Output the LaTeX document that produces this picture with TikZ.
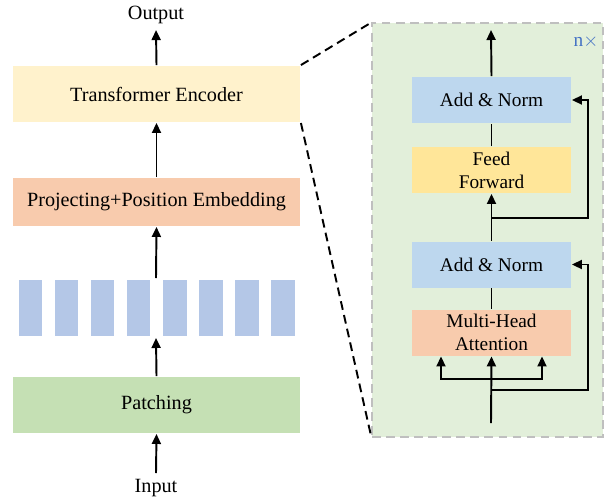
\documentclass[tikz,border=0pt]{standalone}
\usepackage{fontspec}
\setmainfont{Liberation Serif}
\usetikzlibrary{arrows.meta}

\definecolor{encyellow}{HTML}{FFF2CC}
\definecolor{projred}{HTML}{F8CBAD}
\definecolor{patchblue}{HTML}{B4C7E7}
\definecolor{patchgreen}{HTML}{C5E0B4}
\definecolor{panelgreen}{HTML}{E2EFDA}
\definecolor{normblue}{HTML}{BDD7EE}
\definecolor{ffyellow}{HTML}{FFE699}
\definecolor{repblue}{HTML}{4472C4}

\begin{document}
\begin{tikzpicture}[x=0.02cm, y=-0.02cm,
    line width=1.1pt,
    arrow/.style={-{Triangle[length=2mm, width=1.8mm]}},
    bigbox/.style={minimum width=5.74cm, minimum height=1.12cm, inner sep=0pt, font=\fontsize{11.5}{13}\selectfont},
    smallbox/.style={minimum width=3.18cm, minimum height=0.92cm, inner sep=0pt, align=center, font=\fontsize{11}{13}\selectfont},
    label/.style={inner sep=3pt, font=\fontsize{11.5}{13}\selectfont}]
			\useasboundingbox (0,0) rectangle (605,501);
			
			% Left column
			\node[label] (out) at (156,15) {Output};
			\node[bigbox, fill=encyellow] (te) at (156.5,94) {Transformer Encoder};
			\node[bigbox, fill=projred, minimum height=0.96cm] (proj) at (156.5,202) {Projecting+Position Embedding};
			\foreach \i in {1,...,8} {
				\node[fill=patchblue, minimum width=0.48cm, minimum height=1.12cm, inner sep=0pt] (patch\i) at ({30.5+36*(\i-1)},308) {};
			}
			\node[bigbox, fill=patchgreen] (patching) at (156.5,405) {Patching};
			\node[label] (in) at (156,488) {Input};
			
			% Left arrows
			\coordinate (gap) at (156,338);
			\coordinate (gaptop) at (156,278);
			\draw[arrow] (in.north) -- (patching.south);
			\draw[arrow] (patching.north) -- (gap);
			\draw[arrow] (gaptop) -- (proj.south);
			\draw[arrow] (proj.north) -- (te.south);
			\draw[arrow] (te.north) -- (out.south);
			
			% Encoder panel
			\node[draw=black!25, dashed, dash pattern=on 5pt off 3pt, fill=panelgreen, line width=0.7pt, minimum width=4.62cm, minimum height=8.28cm, inner sep=0pt] (panel) at (487.5,230) {};
			\draw[dash pattern=on 5pt off 3pt] (te.north east) -- (panel.north west);
			\draw[dash pattern=on 5pt off 3pt] (te.south east) -- (panel.south west);
			\node[text=repblue, font=\fontsize{11}{13}\selectfont] (rep) at (586,42) {n$\times$};
			
			% Blocks inside the panel
			\node[smallbox, fill=normblue] (an1) at (491.5,100) {Add \& Norm};
			\node[smallbox, fill=ffyellow] (ff) at (491.5,170) {Feed\\Forward};
			\node[smallbox, fill=normblue] (an2) at (491.5,264.5) {Add \& Norm};
			\node[smallbox, fill=projred] (mha) at (491.5,332.5) {Multi-Head\\Attention};
			
			% Panel arrows
			\coordinate (top) at (491,30);
			\coordinate (base) at (491,423);
			\coordinate (split) at (491,379);
			\coordinate (ql) at (441,379);
			\coordinate (qr) at (542,379);
			\coordinate (fork1) at (491,218);
			\coordinate (fork2) at (491,390);
			\coordinate (r1) at (588,100);
			\coordinate (r2) at (588,264.5);
			\draw[arrow] (an1.north) -- (top);
			\draw (ff.north) -- (an1.south);
			\draw[arrow] (an2.north) -- (ff.south);
			\draw (mha.north) -- (an2.south);
			\draw[arrow] (base) -- (mha.south);
			\draw[arrow] (split) -- (ql) -- (ql |- mha.south);
			\draw[arrow] (split) -- (qr) -- (qr |- mha.south);
			\draw[arrow] (fork1) -| (r1) -- (an1.east);
			\draw[arrow] (fork2) -| (r2) -- (an2.east);
		\end{tikzpicture}
\end{document}
